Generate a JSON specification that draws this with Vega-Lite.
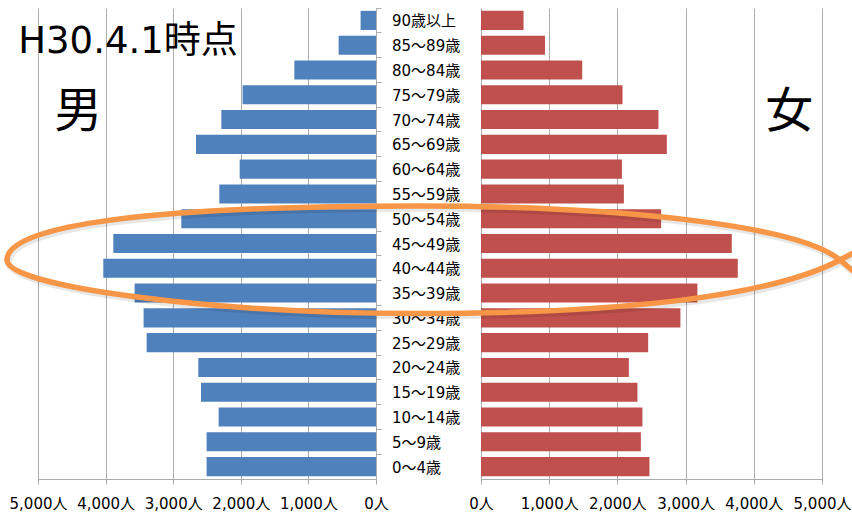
{
  "$schema": "https://vega.github.io/schema/vega-lite/v6.json",
  "width": 784,
  "height": 471,
  "autosize": {"type": "none"},
  "padding": {"left": 38, "top": 8, "right": 30, "bottom": 33},
  "background": "#ffffff",
  "config": {
    "font": "'DejaVu Sans', 'Noto Sans CJK JP', sans-serif",
    "view": {"stroke": null}
  },
  "data": {
    "values": [
      {"age": "90歳以上", "male": 228, "female": 624},
      {"age": "85～89歳", "male": 553, "female": 938},
      {"age": "80～84歳", "male": 1208, "female": 1484},
      {"age": "75～79歳", "male": 1973, "female": 2075},
      {"age": "70～74歳", "male": 2288, "female": 2602},
      {"age": "65～69歳", "male": 2663, "female": 2725},
      {"age": "60～64歳", "male": 2017, "female": 2066},
      {"age": "55～59歳", "male": 2318, "female": 2095},
      {"age": "50～54歳", "male": 2880, "female": 2641},
      {"age": "45～49歳", "male": 3886, "female": 3677},
      {"age": "40～44歳", "male": 4034, "female": 3765},
      {"age": "35～39歳", "male": 3571, "female": 3173},
      {"age": "30～34歳", "male": 3438, "female": 2924},
      {"age": "25～29歳", "male": 3393, "female": 2451},
      {"age": "20～24歳", "male": 2629, "female": 2168},
      {"age": "15～19歳", "male": 2589, "female": 2294},
      {"age": "10～14歳", "male": 2328, "female": 2367},
      {"age": "5～9歳", "male": 2506, "female": 2344},
      {"age": "0～4歳", "male": 2506, "female": 2470}
    ]
  },
  "resolve": {"scale": {"x": "independent"}, "axis": {"x": "independent"}},
  "layer": [
    {
      "mark": {"type": "bar", "color": "#4F81BD"},
      "encoding": {
        "y": {
          "field": "age", "type": "nominal",
          "scale": {
            "domain": ["90歳以上","85～89歳","80～84歳","75～79歳","70～74歳","65～69歳","60～64歳","55～59歳","50～54歳","45～49歳","40～44歳","35～39歳","30～34歳","25～29歳","20～24歳","15～19歳","10～14歳","5～9歳","0～4歳"],
            "paddingInner": 0.23, "paddingOuter": 0.115
          },
          "axis": {
            "orient": "right", "offset": -446, "labels": false, "title": null,
            "ticks": true, "tickSize": 5, "tickColor": "#ACACAC",
            "domain": true, "domainColor": "#ACACAC", "grid": false,
            "bandPosition": -0.149
          }
        },
        "x": {
          "field": "male", "type": "quantitative",
          "scale": {"domain": [-6597, 5000], "reverse": true, "nice": false, "zero": false},
          "axis": {
            "orient": "bottom", "values": [0, 1000, 2000, 3000, 4000, 5000],
            "labelExpr": "format(datum.value, ',') + '人'",
            "title": null, "grid": true, "gridColor": "#ACACAC",
            "domain": false, "ticks": true, "tickSize": 5, "tickColor": "#ACACAC",
            "labelFontSize": 15, "labelColor": "#000000", "labelPadding": 12,
            "labelFlush": false, "labelOverlap": false
          }
        },
        "x2": {"datum": 0}
      }
    },
    {
      "mark": {"type": "bar", "color": "#C0504D"},
      "encoding": {
        "y": {"field": "age", "type": "nominal"},
        "x": {
          "field": "female", "type": "quantitative",
          "scale": {"domain": [-6495.6, 5000], "nice": false, "zero": false},
          "axis": {
            "orient": "bottom", "values": [0, 1000, 2000, 3000, 4000, 5000],
            "labelExpr": "format(datum.value, ',') + '人'",
            "title": null, "grid": true, "gridColor": "#ACACAC",
            "domain": true, "domainColor": "#ACACAC", "domainDash": [338, 105, 341],
            "ticks": true, "tickSize": 5, "tickColor": "#ACACAC",
            "labelFontSize": 15, "labelColor": "#000000", "labelPadding": 12,
            "labelFlush": false, "labelOverlap": false
          }
        },
        "x2": {"datum": 0}
      }
    },
    {
      "mark": {"type": "text", "align": "left", "baseline": "middle", "dx": 16, "dy": 1, "fontSize": 15, "color": "#000000"},
      "encoding": {
        "y": {"field": "age", "type": "nominal"},
        "x": {"datum": 0, "type": "quantitative", "scale": {"domain": [-6597, 5000], "reverse": true, "nice": false, "zero": false}, "axis": null},
        "text": {"field": "age"}
      }
    },
    {
      "data": {"values": [{"t": "H30.4.1時点"}]},
      "mark": {"type": "text", "align": "center", "baseline": "alphabetic", "dy": 8.3, "fontSize": 37, "color": "#000000"},
      "encoding": {
        "y": {"datum": "85～89歳", "type": "nominal"},
        "x": {"datum": 3669, "type": "quantitative", "scale": {"domain": [-6597, 5000], "reverse": true, "nice": false, "zero": false}, "axis": null},
        "text": {"field": "t"}
      }
    },
    {
      "data": {"values": [{"t": "男"}]},
      "mark": {"type": "text", "align": "center", "baseline": "alphabetic", "dy": 7.4, "fontSize": 48, "color": "#000000"},
      "encoding": {
        "y": {"datum": "70～74歳", "type": "nominal"},
        "x": {"datum": 4404, "type": "quantitative", "scale": {"domain": [-6597, 5000], "reverse": true, "nice": false, "zero": false}, "axis": null},
        "text": {"field": "t"}
      }
    },
    {
      "data": {"values": [{"t": "女"}]},
      "mark": {"type": "text", "align": "center", "baseline": "alphabetic", "dy": 7.4, "fontSize": 48, "color": "#000000"},
      "encoding": {
        "y": {"datum": "70～74歳", "type": "nominal"},
        "x": {"datum": 4520, "type": "quantitative", "scale": {"domain": [-6495.6, 5000], "nice": false, "zero": false}, "axis": null},
        "text": {"field": "t"}
      }
    },
    {
      "data": {"values": [{"note": "shadow"}]},
      "mark": {
        "type": "point", "filled": false, "stroke": "#000000", "strokeOpacity": 0.13, "strokeWidth": 6.5, "size": 40000,
        "shape": "M3.905,-0.218 L3.605,-0.058 C2.905,0.312 1.385,0.477 -0.615,0.477 C-2.67,0.477 -4.725,0.2095 -4.725,-0.058 C-4.725,-0.408 -3.285,-0.598 -0.615,-0.598 C1.385,-0.598 3.185,-0.408 3.605,-0.058 L3.905,0.192"
      },
      "encoding": {
        "y": {"datum": "40～44歳", "type": "nominal"},
        "x": {"datum": 0, "type": "quantitative", "scale": {"domain": [-6495.6, 5000], "nice": false, "zero": false}, "axis": null}
      }
    },
    {
      "data": {"values": [{"note": "highlight"}]},
      "mark": {
        "type": "point", "filled": false, "stroke": "#F79646", "strokeWidth": 5.5, "opacity": 1, "size": 40000,
        "shape": "M3.89,-0.243 L3.59,-0.083 C2.89,0.287 1.37,0.452 -0.63,0.452 C-2.685,0.452 -4.74,0.1845 -4.74,-0.083 C-4.74,-0.433 -3.3,-0.623 -0.63,-0.623 C1.37,-0.623 3.17,-0.433 3.59,-0.083 L3.89,0.167"
      },
      "encoding": {
        "y": {"datum": "40～44歳", "type": "nominal"},
        "x": {"datum": 0, "type": "quantitative", "scale": {"domain": [-6495.6, 5000], "nice": false, "zero": false}, "axis": null}
      }
    }
  ]
}
